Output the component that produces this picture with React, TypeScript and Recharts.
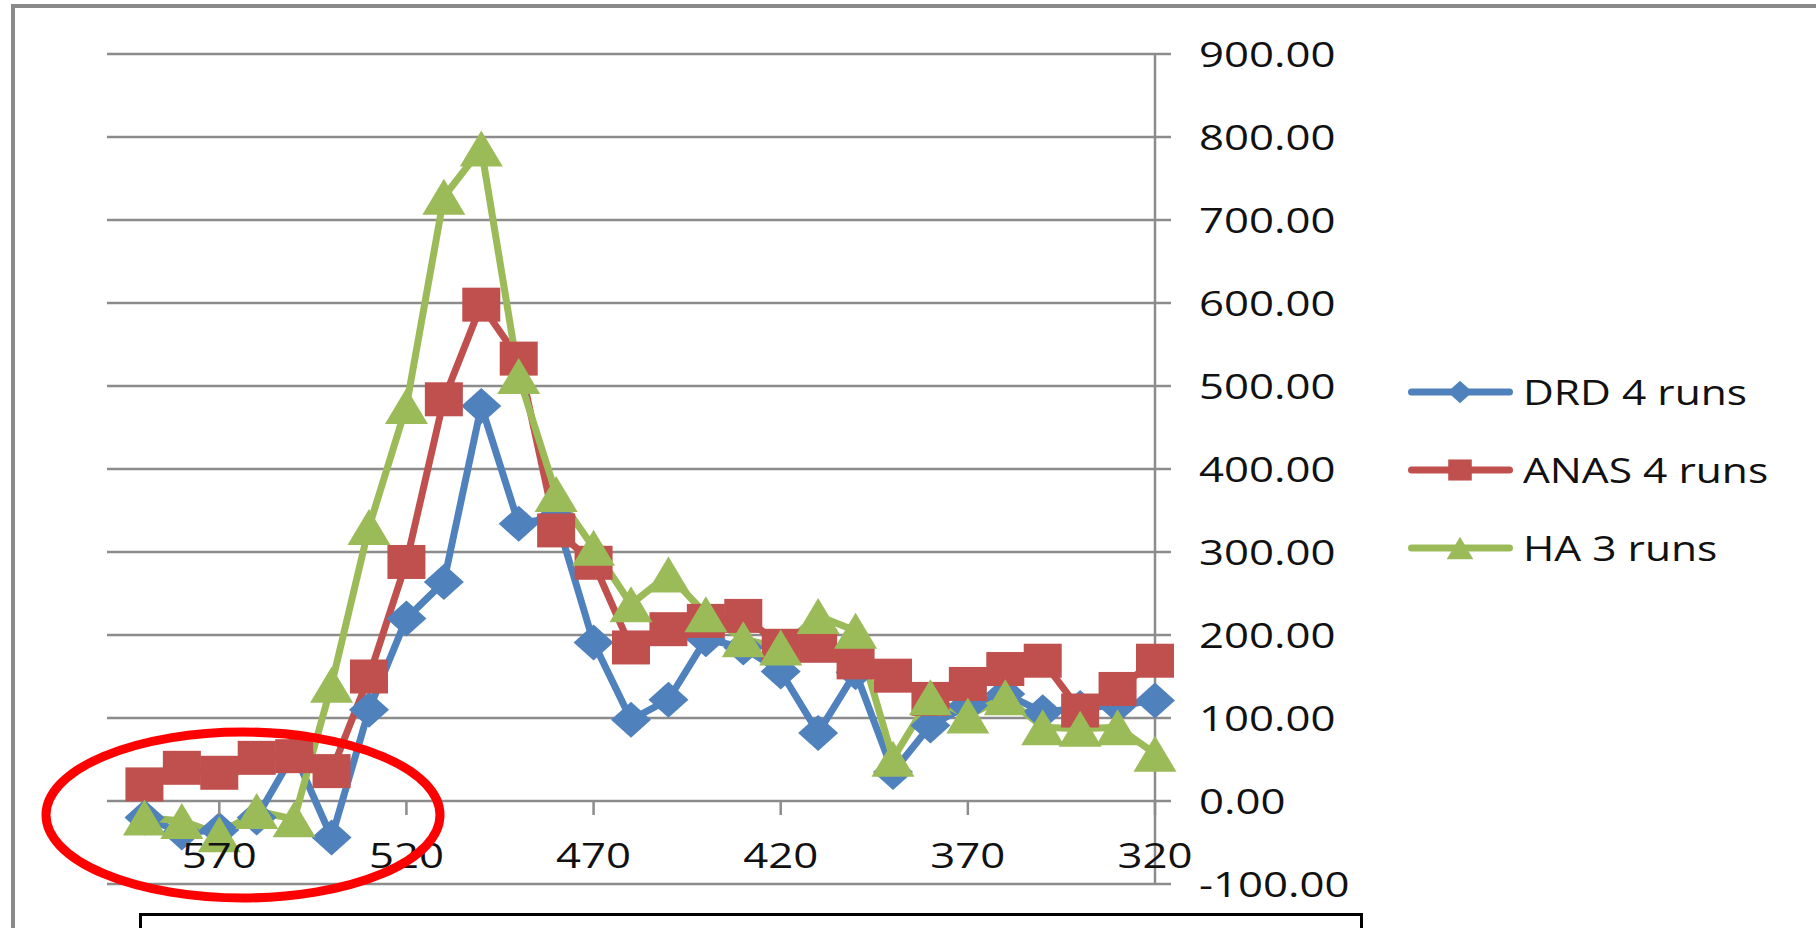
import { LineChart, Line, XAxis, YAxis, CartesianGrid, Legend } from 'recharts'

// emission wavelengths, long to short
const wavelengths = [590, 580, 570, 560, 550, 540, 530, 520, 510, 500, 490, 480, 470, 460, 450, 440, 430, 420, 410, 400, 390, 380, 370, 360, 350, 340, 330, 320]

const drdRuns = [-20, -38, -35, -20, 58, -44, 110, 220, 264, 476, 334, 342, 191, 98, 122, 195, 185, 156, 82, 155, 35, 91, 115, 129, 107, 112, 115, 121]
const anasRuns = [20, 40, 34, 52, 54, 36, 150, 288, 484, 598, 533, 326, 287, 185, 207, 217, 223, 187, 187, 167, 151, 123, 141, 159, 169, 109, 135, 169]
const haRuns = [-20, -24, -40, -12, -22, 140, 330, 476, 728, 786, 512, 370, 305, 237, 273, 225, 195, 185, 223, 205, 51, 125, 103, 125, 89, 87, 89, 57]

const xTicks = [570, 520, 470, 420, 370, 320]
const yTicks = [-100, 0, 100, 200, 300, 400, 500, 600, 700, 800, 900]

type Shape = 'diamond' | 'square' | 'triangle'

const series: { key: string; name: string; color: string; shape: Shape }[] = [
  { key: 'drd', name: 'DRD 4 runs', color: '#4F81BD', shape: 'diamond' },
  { key: 'anas', name: 'ANAS 4 runs', color: '#C0504D', shape: 'square' },
  { key: 'ha', name: 'HA 3 runs', color: '#9BBB59', shape: 'triangle' },
]

const data = wavelengths.map((w, i) => ({
  wavelength: w,
  drd: drdRuns[i],
  anas: anasRuns[i],
  ha: haRuns[i],
}))

const W = 1816
const H = 928
const PLOT_LEFT = 107
const PLOT_TOP = 54
const PLOT_BOTTOM = 884
const AXIS_X = 1155
const Y_AXIS_W = 300
const X_AXIS_H = 30
const FONT = '"Open Sans", sans-serif'
const GRID = '#8c8c8c'
const STRETCH = 1.25

// value -> pixel for the zero line, where the category labels hang
const zeroY = PLOT_TOP + ((900 - 0) / 1000) * (PLOT_BOTTOM - PLOT_TOP)

function Marker({ cx, cy, shape, color, scale = 1 }: { cx: number; cy: number; shape: Shape; color: string; scale?: number }) {
  if (cx == null || cy == null) return null
  if (shape === 'diamond') {
    const w = 20 * scale
    const h = 18 * scale
    return <polygon points={`${cx},${cy - h} ${cx + w},${cy} ${cx},${cy + h} ${cx - w},${cy}`} fill={color} />
  }
  if (shape === 'square') {
    const w = 19 * scale
    const h = 17 * scale
    return <rect x={cx - w} y={cy - h} width={w * 2} height={h * 2} fill={color} />
  }
  const w = 21.5 * scale
  const h = 18 * scale
  return <polygon points={`${cx},${cy - h} ${cx + w},${cy + h} ${cx - w},${cy + h}`} fill={color} />
}

const YTick = ({ x, y, payload }: any) => (
  <text
    transform={`translate(${x} ${y}) scale(${STRETCH} 1)`}
    dominantBaseline="central"
    textAnchor="start"
    fontFamily={FONT}
    fontSize={35}
    fill="#111"
  >
    {Number(payload.value).toFixed(2)}
  </text>
)

const XTick = ({ x, payload }: any) => (
  <g>
    <line x1={x} x2={x} y1={zeroY} y2={zeroY + 14} stroke={GRID} strokeWidth={2.5} />
    <text
      transform={`translate(${x} ${zeroY + 54}) scale(${STRETCH} 1)`}
      dominantBaseline="central"
      textAnchor="middle"
      fontFamily={FONT}
      fontSize={35}
      fill="#111"
    >
      {payload.value}
    </text>
  </g>
)

const SideLegend = () => (
  <div style={{ fontFamily: FONT }}>
    {series.map((s) => (
      <div key={s.key} style={{ height: 78, display: 'flex', alignItems: 'center' }}>
        <svg width={118} height={40}>
          <line x1={11.5} x2={109.5} y1={20} y2={20} stroke={s.color} strokeWidth={7} strokeLinecap="round" />
          <Marker cx={60} cy={20} shape={s.shape} color={s.color} scale={0.62} />
        </svg>
        <span
          style={{
            fontSize: 34,
            color: '#111',
            whiteSpace: 'nowrap',
            display: 'inline-block',
            transform: `scaleX(${STRETCH})`,
            transformOrigin: 'left center',
            marginLeft: 5,
          }}
        >
          {s.name}
        </span>
      </div>
    ))}
  </div>
)

export default function App() {
  return (
    <div style={{ position: 'absolute', left: 0, top: 0, width: W, height: H, overflow: 'hidden', background: '#fff' }}>
      {/* chart frame, only the top and left edges show */}
      <div
        style={{
          position: 'absolute',
          left: 11,
          top: 4,
          width: W,
          height: H,
          borderLeft: '4px solid #8a8a8a',
          borderTop: '4px solid #8a8a8a',
        }}
      />
      <div style={{ position: 'absolute', left: 0, top: 0 }}>
        <LineChart
          width={W}
          height={H}
          data={data}
          margin={{
            top: PLOT_TOP,
            left: PLOT_LEFT,
            right: W - AXIS_X - Y_AXIS_W,
            bottom: H - PLOT_BOTTOM - X_AXIS_H,
          }}
        >
          <CartesianGrid vertical={false} stroke={GRID} strokeWidth={2.5} />
          <XAxis
            dataKey="wavelength"
            type="number"
            domain={[320, 600]}
            reversed
            ticks={xTicks}
            interval={0}
            height={X_AXIS_H}
            axisLine={false}
            tickLine={false}
            tick={<XTick />}
          />
          <YAxis
            orientation="right"
            domain={[-100, 900]}
            ticks={yTicks}
            interval={0}
            width={Y_AXIS_W}
            axisLine={{ stroke: GRID, strokeWidth: 2.5 }}
            tickLine={{ stroke: GRID, strokeWidth: 2.5 }}
            tickSize={16}
            tickMargin={28}
            tick={<YTick />}
          />
          <Legend
            layout="horizontal"
            verticalAlign="middle"
            align="center"
            wrapperStyle={{ left: 1400, top: 353, width: 416 }}
            content={<SideLegend />}
          />
          {series.map((s) => (
            <Line
              key={s.key}
              dataKey={s.key}
              name={s.name}
              type="linear"
              stroke={s.color}
              strokeWidth={7}
              strokeLinejoin="round"
              isAnimationActive={false}
              activeDot={false}
              dot={(p: any) => <Marker key={`${s.key}-${p.index}`} cx={p.cx} cy={p.cy} shape={s.shape} color={s.color} />}
            />
          ))}
        </LineChart>
      </div>
      {/* red ring around the long-wavelength baseline */}
      <svg width={W} height={H} style={{ position: 'absolute', left: 0, top: 0, pointerEvents: 'none' }}>
        <ellipse cx={243} cy={815} rx={197} ry={83} fill="none" stroke="#ff0000" strokeWidth={9} />
      </svg>
      {/* caption box below the plot */}
      <div
        style={{
          position: 'absolute',
          left: 139,
          top: 913,
          width: 1218,
          height: 60,
          border: '3.5px solid #000',
          background: '#fff',
        }}
      />
    </div>
  )
}
